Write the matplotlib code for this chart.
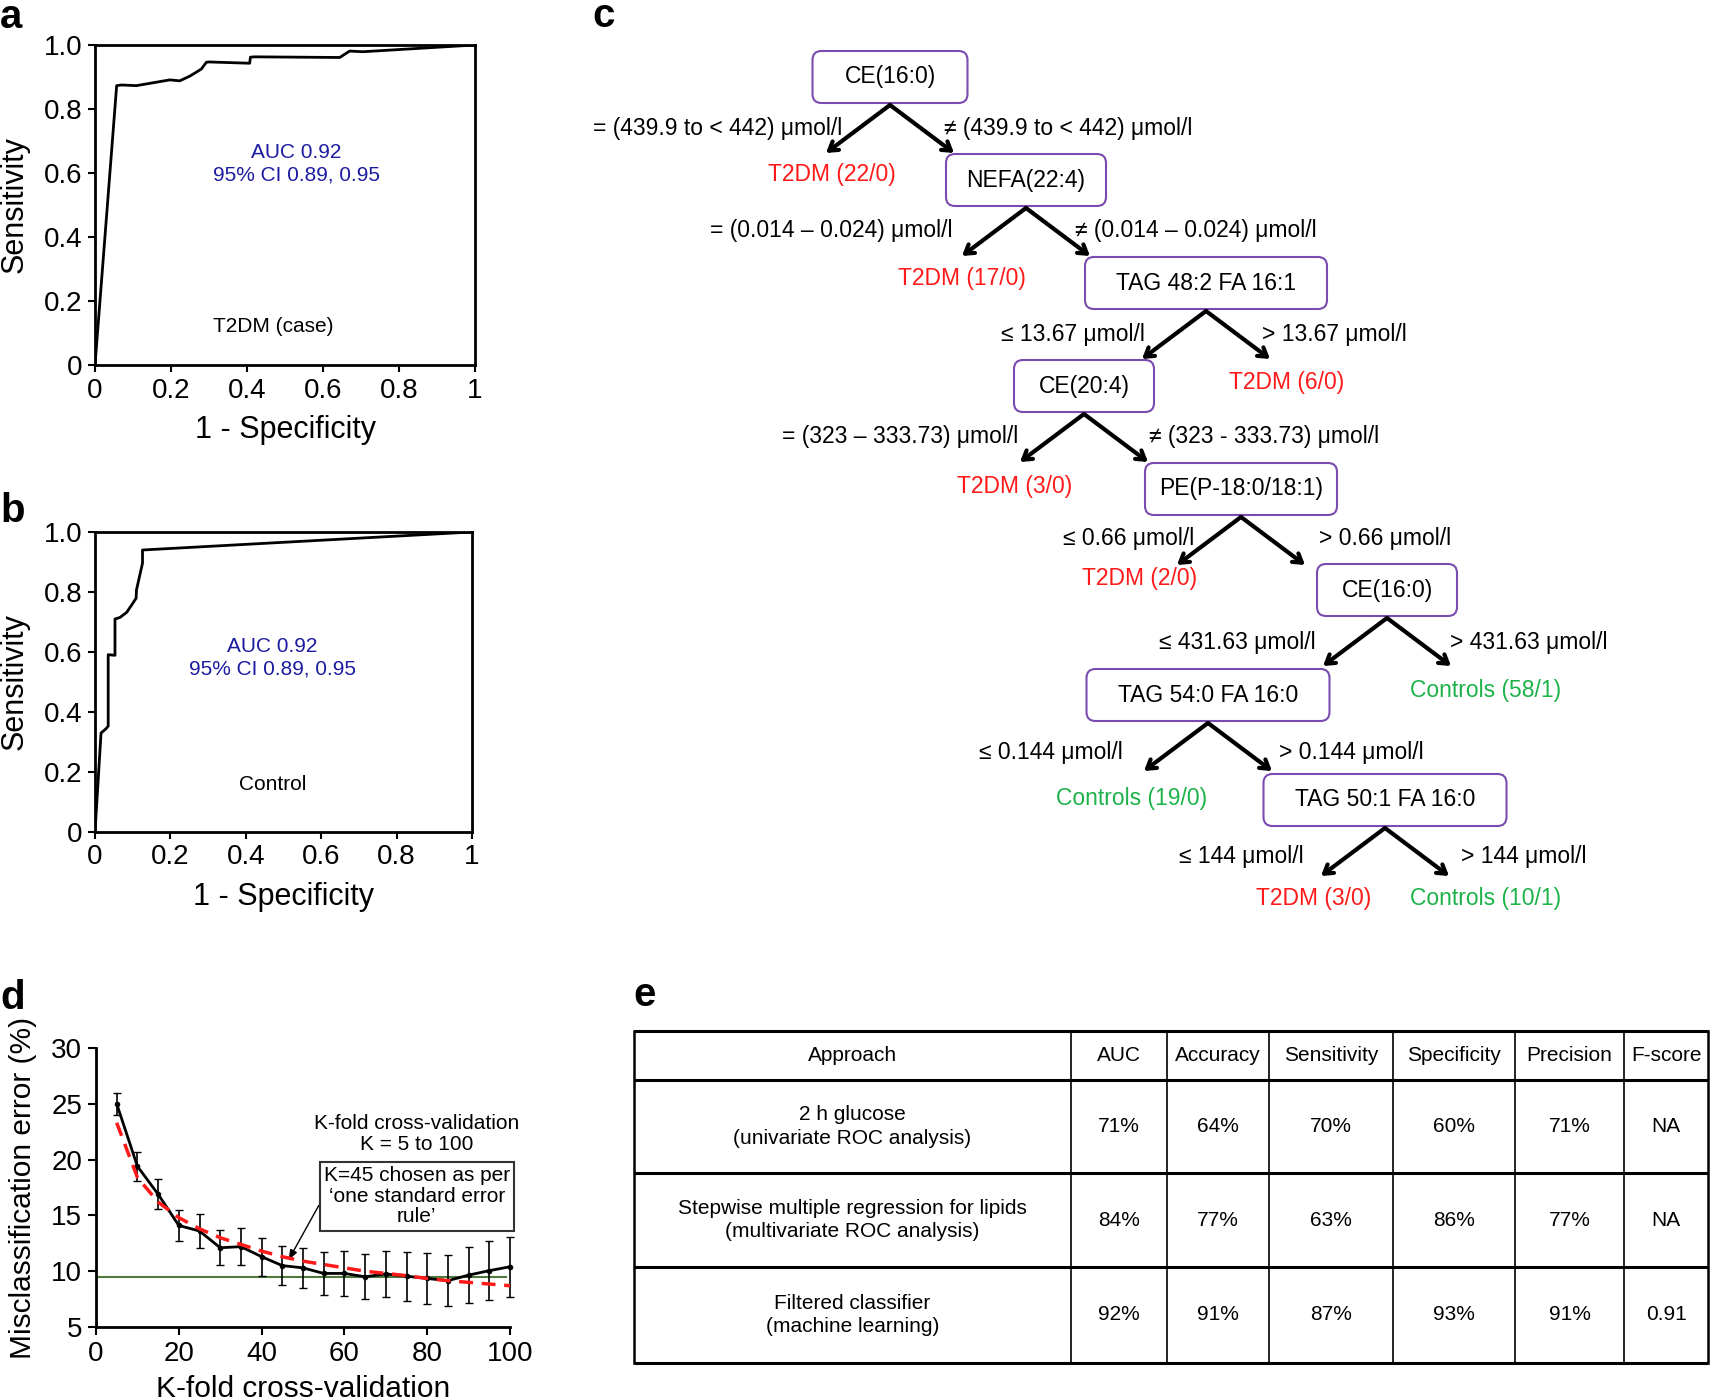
import numpy as np
import matplotlib
matplotlib.use("Agg")
import matplotlib.pyplot as plt
from matplotlib.patches import FancyBboxPatch

plt.rcParams['font.family'] = ['Liberation Sans', 'DejaVu Sans']

W, H = 1710, 1400

# ---- data ----
# a: ROC, T2DM (case)
roc_a_fpr = [0, 0.057, 0.07, 0.109, 0.197, 0.223, 0.25, 0.28, 0.293, 0.30,
             0.407, 0.409, 0.42, 0.644, 0.67, 0.705, 1.0]
roc_a_tpr = [0, 0.873, 0.875, 0.873, 0.891, 0.888, 0.903, 0.925, 0.946, 0.947,
             0.943, 0.962, 0.963, 0.961, 0.981, 0.979, 1.0]
# b: ROC, control
roc_b_fpr = [0, 0.016, 0.029, 0.035, 0.035, 0.053, 0.053, 0.066, 0.084, 0.109,
             0.11, 0.126, 0.126, 1.0]
roc_b_tpr = [0, 0.330, 0.344, 0.353, 0.591, 0.589, 0.71, 0.715, 0.732, 0.779,
             0.807, 0.896, 0.940, 1.0]
auc_text = "AUC 0.92\n95% CI 0.89, 0.95"

# d: k-fold misclassification error
k_fold = [5, 10, 15, 20, 25, 30, 35, 40, 45, 50, 55, 60, 65, 70, 75, 80, 85, 90, 95, 100]
mis_err = [25.0, 19.4, 16.9, 14.1, 13.6, 12.1, 12.2, 11.3, 10.5, 10.3,
           9.8, 9.8, 9.5, 9.75, 9.55, 9.35, 9.15, 9.65, 10.05, 10.4]
mis_se = [1.0, 1.3, 1.35, 1.35, 1.5, 1.55, 1.65, 1.7, 1.72, 1.82,
          1.9, 1.98, 2.0, 2.07, 2.18, 2.25, 2.3, 2.48, 2.62, 2.7]
fit_err = [23.3, 18.4, 16.2, 14.8, 13.8, 13.0, 12.4, 11.8, 11.3, 10.9,
           10.6, 10.3, 10.0, 9.8, 9.6, 9.35, 9.15, 9.0, 8.85, 8.7]
one_se_line = 9.5

# c: decision tree
split_labels = ["CE(16:0)", "NEFA(22:4)", "TAG 48:2 FA 16:1", "CE(20:4)",
                "PE(P-18:0/18:1)", "CE(16:0)", "TAG 54:0 FA 16:0", "TAG 50:1 FA 16:0"]
rule_left = ["= (439.9 to < 442) μmol/l", "= (0.014 – 0.024) μmol/l", "≤ 13.67 μmol/l",
             "= (323 – 333.73) μmol/l", "≤ 0.66 μmol/l", "≤ 431.63 μmol/l",
             "≤ 0.144 μmol/l", "≤ 144 μmol/l"]
rule_right = ["≠ (439.9 to < 442) μmol/l", "≠ (0.014 – 0.024) μmol/l", "> 13.67 μmol/l",
              "≠ (323 - 333.73) μmol/l", "> 0.66 μmol/l", "> 431.63 μmol/l",
              "> 0.144 μmol/l", "> 144 μmol/l"]
leaf_labels = ["T2DM (22/0)", "T2DM (17/0)", "T2DM (6/0)", "T2DM (3/0)", "T2DM (2/0)",
               "Controls (58/1)", "Controls (19/0)", "T2DM (3/0)", "Controls (10/1)"]

# e: performance table
table_cols = ["Approach", "AUC", "Accuracy", "Sensitivity", "Specificity", "Precision", "F-score"]
approaches = ["2 h glucose\n(univariate ROC analysis)",
              "Stepwise multiple regression for lipids\n(multivariate ROC analysis)",
              "Filtered classifier\n(machine learning)"]
auc_vals = ["71%", "84%", "92%"]
accuracy = ["64%", "77%", "91%"]
sensitivity = ["70%", "63%", "87%"]
specificity = ["60%", "86%", "93%"]
precision = ["71%", "77%", "91%"]
f_score = ["NA", "NA", "0.91"]

# ---- layout helpers ----
fig = plt.figure(figsize=(W / 100, H / 100), dpi=100)


def px_axes(x0, y0, x1, y1):
    return fig.add_axes([x0 / W, 1 - y1 / H, (x1 - x0) / W, (y1 - y0) / H])


ov = fig.add_axes([0, 0, 1, 1])
ov.set_xlim(0, W)
ov.set_ylim(H, 0)
ov.axis('off')

BLUE = '#1c1ca0'
RED = '#ff1a1a'
GREEN = '#1db34a'
PURPLE = '#7a4cb0'
TREE_FS = 16.5
TAB_FS = 15


def roc_panel(rect, fpr, tpr, group, xtxt, ytxt, ygrp):
    ax = px_axes(*rect)
    ax.plot(fpr, tpr, color='black', lw=2)
    ax.set_xlim(0, 1)
    ax.set_ylim(0, 1)
    ax.set_xticks([0, 0.2, 0.4, 0.6, 0.8, 1])
    ax.set_xticklabels(["0", "0.2", "0.4", "0.6", "0.8", "1"])
    ax.set_yticks([0, 0.2, 0.4, 0.6, 0.8, 1])
    ax.set_yticklabels(["0", "0.2", "0.4", "0.6", "0.8", "1.0"])
    ax.tick_params(labelsize=20, length=5, width=1.5, direction='out', pad=4)
    for s in ax.spines.values():
        s.set_linewidth(2)
    ax.set_xlabel("1 - Specificity", fontsize=22, labelpad=8)
    ax.set_ylabel("Sensitivity", fontsize=22, labelpad=10)
    ax.text(xtxt, ytxt, auc_text, color=BLUE, fontsize=15, ha='center', va='center',
            linespacing=1.25)
    ax.text(0.47, ygrp, group, color='black', fontsize=15, ha='center', va='center')
    return ax


roc_panel((95, 45, 475, 365), roc_a_fpr, roc_a_tpr, "T2DM (case)", 0.53, 0.63, 0.12)
roc_panel((95, 532, 472, 832), roc_b_fpr, roc_b_tpr, "Control", 0.47, 0.58, 0.16)

# ---- d ----
axd = px_axes(96, 1048, 510, 1327)
axd.plot([0, 99], [one_se_line, one_se_line], color='#4f7a3c', lw=1.5)
axd.errorbar(k_fold, mis_err, yerr=mis_se, color='black', lw=2, ecolor='black',
             elinewidth=1.2, capsize=3, marker='o', ms=3, clip_on=False, zorder=3)
axd.plot(k_fold, fit_err, color='#ff1a1a', lw=2.5, ls=(0, (4, 2.5)), zorder=4)
axd.set_xlim(0, 100)
axd.set_ylim(5, 30)
axd.set_xticks(range(0, 101, 20))
axd.set_yticks(range(5, 31, 5))
axd.spines['top'].set_visible(False)
axd.spines['right'].set_visible(False)
for s in ('left', 'bottom'):
    axd.spines[s].set_linewidth(2)
axd.tick_params(labelsize=20, length=6, width=1.5, pad=4)
axd.set_xlabel("K-fold cross-validation", fontsize=21.5, labelpad=6)
axd.set_ylabel("Misclassification error (%)", fontsize=21.5, labelpad=10)
axd.text(77.5, 22.3, "K-fold cross-validation\nK = 5 to 100", fontsize=15,
         ha='center', va='center', linespacing=1.1)
axd.annotate("K=45 chosen as per\n‘one standard error\nrule’", xy=(46.5, 11.0),
             xytext=(77.5, 16.7), fontsize=15, ha='center', va='center',
             linespacing=1.1,
             bbox=dict(boxstyle='square,pad=0.2', fc='white', ec='#333333', lw=1.5),
             arrowprops=dict(arrowstyle='-|>,head_length=0.4,head_width=0.15', lw=1,
                             color='black', relpos=(0, 0.5), shrinkA=0, shrinkB=0))

# ---- c: tree ----
node_xy = [(890, 77, 155), (1026, 180, 160), (1206, 283, 242), (1084, 386, 140),
           (1241, 489, 192), (1387, 590, 140), (1208, 695, 243), (1385, 800, 243)]
rule_xy = [(842, 944, 128), (952, 1075, 231), (1145, 1262, 334), (1018, 1149, 437),
           (1194, 1319, 538), (1316, 1450, 642), (1123, 1279, 752), (1304, 1461, 857)]
leaf_xy = [(832, 174), (962, 279), (1287, 382), (1015, 487), (1140, 578),
           (1486, 690), (1132, 798), (1314, 898), (1486, 898)]
BOX_H = 52

for lab, (cx, cy, bw) in zip(split_labels, node_xy):
    ov.add_patch(FancyBboxPatch((cx - bw / 2, cy - BOX_H / 2), bw, BOX_H,
                                boxstyle='round,pad=0,rounding_size=9',
                                fc='white', ec=PURPLE, lw=1.5))
    ov.text(cx, cy, lab, fontsize=TREE_FS, ha='center', va='center')
    for dx in (-64, 64):
        ov.annotate('', xy=(cx + dx, cy + BOX_H / 2 + 50), xytext=(cx, cy + BOX_H / 2 + 2),
                    arrowprops=dict(arrowstyle='->,head_length=0.6,head_width=0.38',
                                    lw=3, color='black', shrinkA=0, shrinkB=0))

for rl, rr, (xl, xr, y) in zip(rule_left, rule_right, rule_xy):
    ov.text(xl, y, rl, fontsize=TREE_FS, ha='right', va='center')
    ov.text(xr, y, rr, fontsize=TREE_FS, ha='left', va='center')

for lab, (x, y) in zip(leaf_labels, leaf_xy):
    ov.text(x, y, lab, fontsize=TREE_FS, ha='center', va='center',
            color=RED if lab.startswith("T2DM") else GREEN)

# ---- e: table ----
col_x = [634, 1071, 1167, 1269, 1393, 1515, 1624, 1708]
row_y = [1031, 1080, 1173, 1267, 1363]
for y in row_y:
    ov.plot([col_x[0], col_x[-1]], [y, y], color='black', lw=2.2, solid_capstyle='butt')
for i, x in enumerate(col_x):
    ov.plot([x, x], [row_y[0], row_y[-1]], color='black',
            lw=1.8 if i in (0, len(col_x) - 1) else 1.2)

rows = [approaches, auc_vals, accuracy, sensitivity, specificity, precision, f_score]
for j, head in enumerate(table_cols):
    xc = (col_x[j] + col_x[j + 1]) / 2
    ov.text(xc, (row_y[0] + row_y[1]) / 2, head, fontsize=TAB_FS, ha='center', va='center')
    for i in range(3):
        yc = (row_y[i + 1] + row_y[i + 2]) / 2
        ov.text(xc, yc, rows[j][i], fontsize=TAB_FS, ha='center', va='center',
                linespacing=1.3)

# panel letters
for lab, x, y in [("a", 0, 28), ("b", 0, 522), ("c", 592, 27), ("d", 0, 1009), ("e", 633, 1006)]:
    ov.text(x, y, lab, fontsize=29, fontweight='bold', ha='left', va='baseline')

fig.savefig("out.png", dpi=100)
